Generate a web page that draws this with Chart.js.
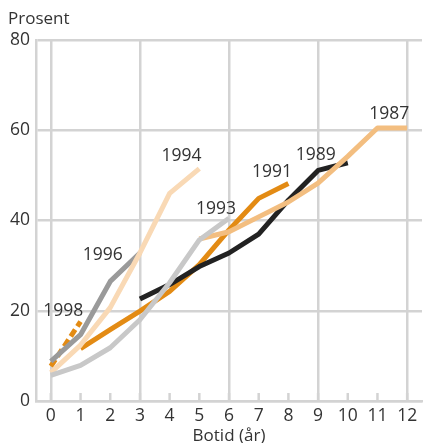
<!DOCTYPE html>
<html>
<head>
<meta charset="utf-8">
<script src="https://cdn.jsdelivr.net/npm/chart.js@4"></script>
<style>
  html, body { margin: 0; padding: 0; background: #fff; }
  #wrap { width: 423px; height: 443px; }
</style>
</head>
<body>
<div id="wrap"><canvas id="chart" width="423" height="443"></canvas></div>
<script>
// botid (years of residence) and share in percent per arrival cohort
const botid = [0, 1, 2, 3, 4, 5, 6, 7, 8, 9, 10, 11, 12];
const k1987 = [null, null, null, null, null, 35.9, 37.5, 40.8, 44.1, 48.3, 54.2, 60.5, 60.5];
const k1989 = [null, null, null, 22.6, 25.8, 29.8, 32.8, 37.0, 44.5, 51.1, 52.8, null, null];
const k1991 = [null, 11.6, 15.8, 19.9, 24.3, 30.2, 37.9, 44.9, 48.2, null, null, null, null];
const k1993 = [5.7, 7.9, 11.8, 18.0, 26.2, 35.7, 40.5, null, null, null, null, null, null];
const k1994 = [6.3, 12.4, 20.7, 32.8, 46.0, 51.5, null, null, null, null, null, null, null];
const k1996 = [8.8, 14.7, 26.5, 32.8, null, null, null, null, null, null, null, null, null];
const k1998 = [7.7, 17.6, null, null, null, null, null, null, null, null, null, null, null];

// label text with its anchor in data units
const seriesLabels = [
  { text: '1998', x: 0.42, y: 19.9 },
  { text: '1996', x: 1.75, y: 32.4 },
  { text: '1994', x: 4.4, y: 54.4 },
  { text: '1993', x: 5.56, y: 42.6 },
  { text: '1991', x: 7.45, y: 50.8 },
  { text: '1989', x: 8.92, y: 54.5 },
  { text: '1987', x: 11.4, y: 63.7 }
];

const FONT = "'Open Sans', 'Noto Sans', sans-serif";
const GRID = '#d3d3d3';

function pts(vals) {
  const out = [];
  vals.forEach((v, i) => { if (v !== null) out.push({ x: botid[i], y: v }); });
  return out;
}

function line(data, color, dash) {
  return {
    data: pts(data),
    borderColor: color,
    backgroundColor: color,
    borderWidth: 5,
    borderDash: dash || [],
    borderCapStyle: 'butt',
    borderJoinStyle: 'round',
    pointRadius: 0,
    fill: false,
    tension: 0
  };
}

const extras = {
  id: 'extras',
  afterDatasetsDraw(chart) {
    const ctx = chart.ctx;
    const xs = chart.scales.x, ys = chart.scales.y;
    const area = chart.chartArea;
    ctx.save();
    ctx.fillStyle = '#333';
    ctx.font = '17.5px ' + FONT;
    ctx.textAlign = 'center';
    ctx.textBaseline = 'middle';
    seriesLabels.forEach(l => {
      ctx.fillText(l.text, xs.getPixelForValue(l.x), ys.getPixelForValue(l.y));
    });
    ctx.font = '17px ' + FONT;
    ctx.fillText('Botid (år)', (area.left + area.right) / 2, 436);
    ctx.textAlign = 'left';
    ctx.fillText('Prosent', 8, 19);
    ctx.restore();
  },
  beforeDatasetsDraw(chart) {
    // small tick marks inside the plot on the bottom axis
    const ctx = chart.ctx;
    const xs = chart.scales.x;
    const bottom = chart.chartArea.bottom;
    ctx.save();
    ctx.strokeStyle = GRID;
    ctx.lineWidth = 2.5;
    botid.forEach(v => {
      const px = xs.getPixelForValue(v);
      ctx.beginPath();
      ctx.moveTo(px, bottom);
      ctx.lineTo(px, bottom - 8);
      ctx.stroke();
    });
    ctx.restore();
  }
};

new Chart(document.getElementById('chart').getContext('2d'), {
  type: 'line',
  data: {
    datasets: [
      line(k1993, '#c8c8c8'),
      line(k1994, '#f9d9b5'),
      line(k1987, '#f3be80'),
      line(k1989, '#222222'),
      line(k1991, '#e38b14'),
      line(k1996, '#9a9a9a'),
      line(k1998, '#e38b14', [8, 4])
    ]
  },
  options: {
    responsive: false,
    animation: false,
    layout: { padding: { top: 40, right: 1, left: 0, bottom: 0 } },
    plugins: { legend: { display: false }, tooltip: { enabled: false } },
    scales: {
      x: {
        type: 'linear',
        min: -0.5,
        max: 12.5,
        afterBuildTicks: s => { s.ticks = botid.map(v => ({ value: v })); },
        afterFit: s => { s.height = 42; },
        ticks: { color: '#333', font: { family: FONT, size: 17.5 }, padding: 5, maxRotation: 0, autoSkip: false },
        grid: {
          color: c => (c.tick && c.tick.value % 3 === 0) ? GRID : 'rgba(0,0,0,0)',
          lineWidth: 2.5,
          drawTicks: false
        },
        border: { color: GRID, width: 2.5 }
      },
      y: {
        min: 0,
        max: 80,
        afterFit: s => { s.width = 36; },
        ticks: { stepSize: 20, color: '#333', font: { family: FONT, size: 17.5 }, padding: 6 },
        grid: { color: GRID, lineWidth: 2.5, drawTicks: false },
        border: { color: GRID, width: 2.5 }
      }
    }
  },
  plugins: [extras]
});
</script>
</body>
</html>
